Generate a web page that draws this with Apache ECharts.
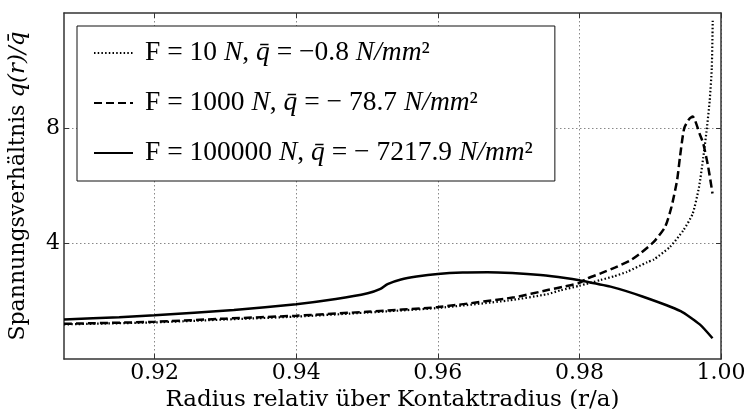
<!DOCTYPE html>
<html>
<head>
<meta charset="utf-8">
<script src="https://cdn.jsdelivr.net/npm/echarts@6/dist/echarts.min.js"></script>
<style>
  html, body { margin: 0; padding: 0; background: #fff; }
  #chart { width: 748px; height: 409px; }
</style>
</head>
<body>
<div id="chart"></div>
<script>
// values
const radiusF10 = [0.9072, 0.92, 0.93, 0.94, 0.95, 0.96, 0.97, 0.9755, 0.9773, 0.98, 0.983, 0.9849, 0.9867, 0.9896, 0.9905, 0.9928, 0.9947, 0.996, 0.9969, 0.9975, 0.998, 0.9984, 0.9987, 0.99883]
const ratioF10 = [1.20, 1.27, 1.37, 1.47, 1.61, 1.77, 2.03, 2.25, 2.38, 2.54, 2.74, 2.87, 3.02, 3.36, 3.45, 3.89, 4.47, 5.04, 5.97, 7.0, 7.99, 8.96, 10.1, 11.73]

const radiusF1000 = [0.9072, 0.92, 0.93, 0.94, 0.95, 0.96, 0.9708, 0.9755, 0.978, 0.98, 0.9811, 0.983, 0.985, 0.9872, 0.9886, 0.9905, 0.9921, 0.993, 0.9938, 0.9942, 0.9948, 0.9955, 0.996, 0.997, 0.9975, 0.9982, 0.9988]
const ratioF1000 = [1.22, 1.29, 1.40, 1.50, 1.64, 1.80, 2.14, 2.39, 2.52, 2.64, 2.79, 2.97, 3.17, 3.42, 3.66, 4.06, 4.58, 5.27, 6.2, 7.0, 8.0, 8.32, 8.41, 7.8, 7.47, 6.65, 5.74]

const radiusF100000 = [0.9072, 0.915, 0.92, 0.9312, 0.94, 0.9456, 0.9501, 0.9519, 0.9529, 0.9548, 0.957, 0.96, 0.9635, 0.967, 0.9705, 0.9745, 0.978, 0.98, 0.9844, 0.989, 0.9943, 0.997, 0.9988]
const ratioF100000 = [1.37, 1.45, 1.52, 1.70, 1.90, 2.08, 2.28, 2.43, 2.60, 2.76, 2.86, 2.95, 3.00, 3.01, 2.98, 2.91, 2.81, 2.73, 2.51, 2.16, 1.66, 1.20, 0.72]

const xTicks = [0.92, 0.94, 0.96, 0.98, 1.00]
const yTicks = [4, 8]

const seriesNames = ['F = 10 N, q̄ = −0.8 N/mm²', 'F = 1000 N, q̄ = − 78.7 N/mm²', 'F = 100000 N, q̄ = − 7217.9 N/mm²']
const legendRich = [
  '{r|F = 10 }{i|N}{r|, }{i|q̄}{r| = −0.8 }{i|N/mm}{r|²}',
  '{r|F = 1000 }{i|N}{r|, }{i|q̄}{r| = − 78.7 }{i|N/mm}{r|²}',
  '{r|F = 100000 }{i|N}{r|, }{i|q̄}{r| = − 7217.9 }{i|N/mm}{r|²}'
]

const pairs = (xs, ys) => xs.map((x, i) => [x, ys[i]])

const chart = echarts.init(document.getElementById('chart'))

const serif = 'DejaVu Serif'
const gridLine = { show: true, lineStyle: { color: '#888', width: 1, type: [1.5, 2.5] } }
const frame = { show: true, onZero: false, lineStyle: { color: '#333', width: 1.5 } }
const innerTick = ticks => ({ show: true, inside: true, length: 5, customValues: ticks, lineStyle: { color: '#333' } })

chart.setOption({
  animation: false,
  backgroundColor: '#fff',
  grid: { left: 64, right: 27, top: 13, bottom: 50, outerBoundsMode: 'none', containLabel: false },
  legend: {
    orient: 'vertical',
    left: 77,
    top: 26,
    padding: [13, 22, 14, 16],
    itemGap: 22,
    itemWidth: 39,
    itemHeight: 14,
    backgroundColor: '#fff',
    borderColor: '#111',
    borderWidth: 1,
    borderRadius: 0,
    itemStyle: { opacity: 0 },
    data: seriesNames,
    formatter: name => legendRich[seriesNames.indexOf(name)],
    textStyle: {
      color: '#000',
      padding: [0, 0, 0, 7],
      rich: {
        r: { fontFamily: 'Liberation Serif', fontSize: 27.5, lineHeight: 31 },
        i: { fontFamily: 'Liberation Serif', fontStyle: 'italic', fontSize: 27.5, lineHeight: 31 }
      }
    }
  },
  xAxis: [{
    type: 'value',
    min: 0.9072,
    max: 1.0,
    name: 'Radius relativ über Kontaktradius (r/a)',
    nameLocation: 'middle',
    nameGap: 22,
    nameTextStyle: { fontFamily: serif, fontSize: 23, color: '#000' },
    axisLine: frame,
    axisTick: innerTick(xTicks),
    axisLabel: { customValues: xTicks, formatter: v => v.toFixed(2), fontFamily: serif, fontSize: 22, color: '#000', margin: 3 },
    splitLine: gridLine
  }, {
    type: 'value',
    position: 'top',
    min: 0.9072,
    max: 1.0,
    axisLine: frame,
    axisTick: innerTick(xTicks),
    axisLabel: { show: false },
    splitLine: { show: false }
  }],
  yAxis: [{
    type: 'value',
    min: 0,
    max: 12,
    interval: 4,
    name: '{a|Spannungsverhältnis }{b|q(r)/q̄}',
    nameLocation: 'middle',
    nameGap: 34,
    nameTextStyle: {
      color: '#000',
      rich: {
        a: { fontFamily: serif, fontSize: 22 },
        b: { fontFamily: serif, fontStyle: 'italic', fontSize: 23 }
      }
    },
    axisLine: frame,
    axisTick: innerTick(yTicks),
    axisLabel: { customValues: yTicks, fontFamily: serif, fontSize: 22, color: '#000', margin: 4 },
    splitLine: gridLine
  }, {
    type: 'value',
    position: 'right',
    min: 0,
    max: 12,
    interval: 4,
    axisLine: frame,
    axisTick: innerTick(yTicks),
    axisLabel: { show: false },
    splitLine: { show: false }
  }],
  series: [{
    name: seriesNames[0],
    type: 'line',
    symbol: 'none',
    smooth: 0.2,
    data: pairs(radiusF10, ratioF10),
    lineStyle: { color: '#000', width: 2.2, type: [1.5, 2.2] },
    itemStyle: { color: '#000' }
  }, {
    name: seriesNames[1],
    type: 'line',
    symbol: 'none',
    smooth: 0.2,
    data: pairs(radiusF1000, ratioF1000),
    lineStyle: { color: '#000', width: 2.5, type: [8, 4] },
    itemStyle: { color: '#000' }
  }, {
    name: seriesNames[2],
    type: 'line',
    symbol: 'none',
    smooth: 0.2,
    data: pairs(radiusF100000, ratioF100000),
    lineStyle: { color: '#000', width: 2.5 },
    itemStyle: { color: '#000' }
  }]
})
</script>
</body>
</html>
